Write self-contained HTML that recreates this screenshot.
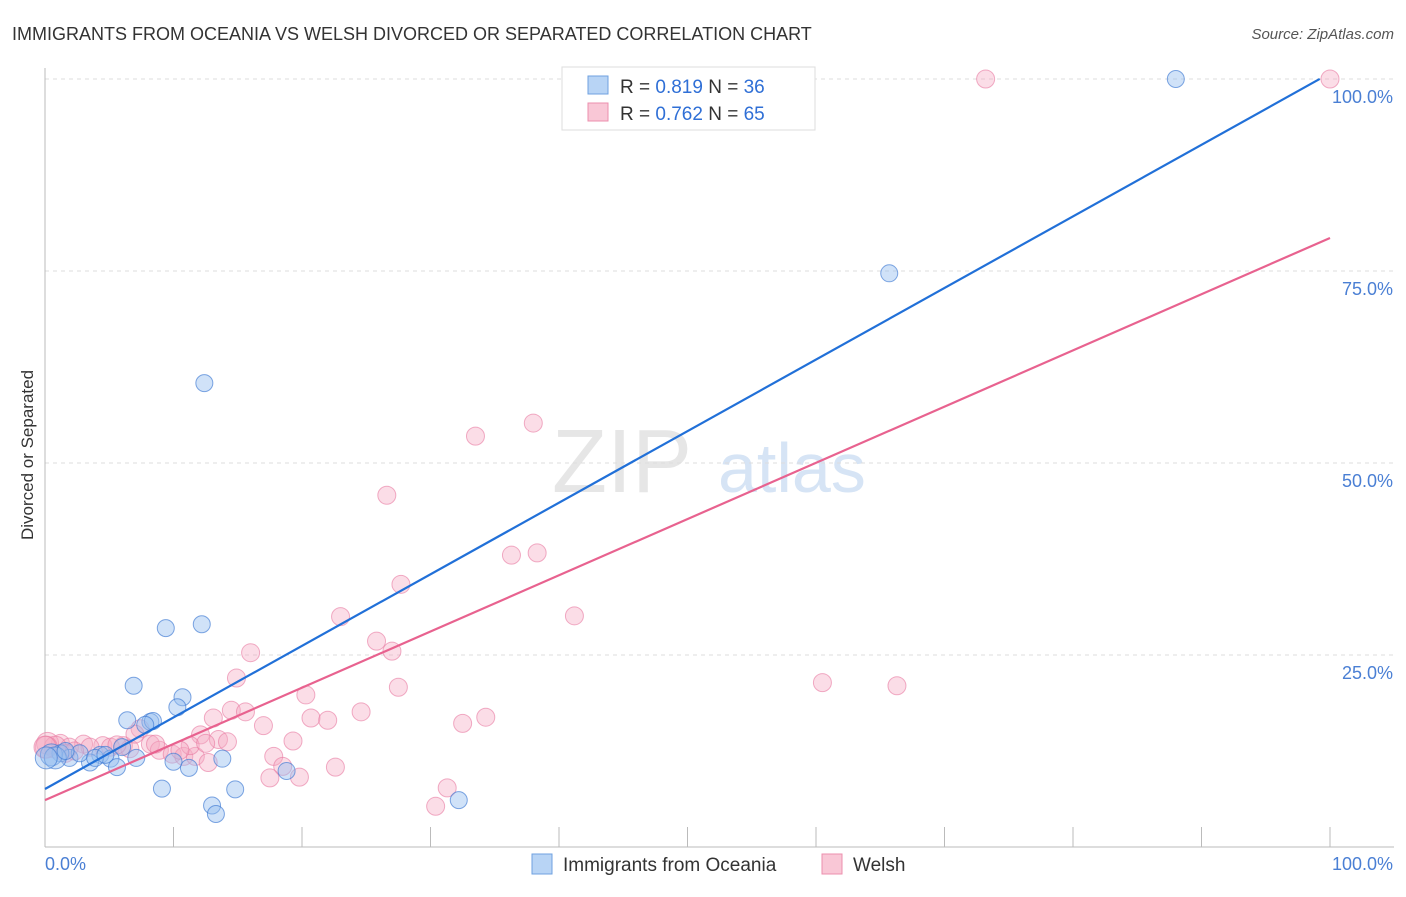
<!DOCTYPE html>
<html><head><meta charset="utf-8"><style>
body{margin:0;background:#fff;font-family:"Liberation Sans",sans-serif}
svg text{font-family:"Liberation Sans",sans-serif}
</style></head><body>
<svg id="c" width="1406" height="892">
<text x="12" y="40" font-size="18" fill="#333">IMMIGRANTS FROM OCEANIA VS WELSH DIVORCED OR SEPARATED CORRELATION CHART</text>
<text x="1394" y="39" font-size="15" fill="#555" text-anchor="end" font-style="italic">Source: ZipAtlas.com</text>
<text transform="translate(33,455) rotate(-90)" font-size="17" fill="#333" text-anchor="middle">Divorced or Separated</text>
<text x="552" y="492" font-size="90" fill="#e6e6e6" font-family="Liberation Serif">ZIP</text>
<text x="718" y="492" font-size="70" fill="#d6e4f5">atlas</text>
<g id="grid"></g><g id="pts"></g><g id="lines"></g>
<g>
<rect x="562" y="67" width="253" height="63" fill="#fff" stroke="#ddd"/>
<rect x="588" y="76" width="20" height="18" fill="#b8d4f5" stroke="#6fa1e0"/>
<rect x="588" y="103" width="20" height="18" fill="#f9c7d6" stroke="#ec8fae"/>
<text x="620" y="93" font-size="19" fill="#333">R = <tspan fill="#2f6fd6">0.819</tspan>   N = <tspan fill="#2f6fd6">36</tspan></text>
<text x="620" y="120" font-size="19" fill="#333">R = <tspan fill="#2f6fd6">0.762</tspan>   N = <tspan fill="#2f6fd6">65</tspan></text>
</g>
<g>
<rect x="532" y="854" width="20" height="20" fill="#b8d4f5" stroke="#6fa1e0"/>
<text x="563" y="871" font-size="19" fill="#333">Immigrants from Oceania</text>
<rect x="822" y="854" width="20" height="20" fill="#f9c7d6" stroke="#ec8fae"/>
<text x="853" y="871" font-size="19" fill="#333">Welsh</text>
</g>
</svg>
<script>
const yTicks=[25,50,75,100];
const yTickLabels=["25.0%","50.0%","75.0%","100.0%"];
const xTickLabels=["0.0%","100.0%"];
const blueX=[88,65.7,12.4,9.4,12.2,6.9,10.7,10.3,6.4,8.2,8.4,7.8,6,7.1,4.3,5.1,5.6,3.5,1.9,1.2,0.5,2.7,9.1,13,13.3,14.8,32.2,11.2,10,13.8,18.8,0.8,1.6,3.9,4.7,0.1];
const blueY=[100,74.7,60.4,28.5,29,21,19.5,18.2,16.5,16.3,16.4,15.9,13,11.6,12,11.5,10.4,11,11.6,12.2,12,12.2,7.6,5.4,4.3,7.5,6.1,10.3,11.1,11.5,9.9,11.6,12.5,11.6,12,11.6];
const pinkX=[73.2,100,33.5,38,26.6,36.3,38.3,27.7,41.2,23,16,25.8,27,14.9,27.5,20.3,60.5,66.3,14.5,15.6,13.1,17.0,20.7,22,24.6,32.5,34.3,7.4,12.1,13.5,14.2,19.3,8.2,6.1,4.5,3,8.9,9.9,10.8,11.7,17.8,18.5,17.5,19.8,22.6,31.3,30.4,12.7,1.2,1.9,0.2,0.8,3.5,5.1,6.6,1.6,2.3,0.1,5.6,7,8.6,11.3,10.5,12.5,0];
const pinkY=[100,100,53.5,55.2,45.8,38,38.3,34.2,30.1,30,25.3,26.8,25.5,22,20.8,19.8,21.4,21,17.8,17.6,16.8,15.8,16.8,16.5,17.6,16.1,16.9,15.4,14.6,14,13.7,13.8,13.4,13.2,13.2,13.4,12.6,12.1,11.8,11.8,11.8,10.5,9,9.1,10.4,7.7,5.3,11,13.5,13,13.5,13,13,13,12.8,12.2,12.5,13,13.3,14.7,13.4,13.2,12.6,13.5,13];
const lineIntercepts=[7.55,6.1];
const lineSlopes=[0.932,0.732];
const lineEnds=[99.2,100];
const NS="http://www.w3.org/2000/svg";
const X=v=>45+v*12.85, Y=v=>847-v*7.68;
function mk(t,a,p){const e=document.createElementNS(NS,t);for(const k in a)e.setAttribute(k,a[k]);p.appendChild(e);return e;}
const grid=document.getElementById('grid');
yTicks.forEach((t,i)=>{
 const l=mk('line',{x1:45,x2:1394,y1:Y(t),y2:Y(t),stroke:'#ddd','stroke-dasharray':'4,4'},grid);
 
 
 const tx=mk('text',{x:1393,y:Y(t)+24,'font-size':18,fill:'#4a7fd4','text-anchor':'end'},grid);
 tx.textContent=yTickLabels[i];
 
 
});
const ax=mk('line',{x1:45,x2:45,y1:68,y2:847,stroke:'#bbb'},grid);


const bx=mk('line',{x1:45,x2:1394,y1:847,y2:847,stroke:'#bbb'},grid);


for(let i=1;i<=10;i++){const t=mk('line',{x1:X(i*10),x2:X(i*10),y1:827,y2:847,stroke:'#bbb'},grid);
 
 }
[[0,45,'start'],[100,1393,'end']].forEach((d,i)=>{const t=mk('text',{x:d[1],y:870,'font-size':18,fill:'#4a7fd4','text-anchor':d[2]},grid);
 t.textContent=xTickLabels[i];
 
 });
const pts=document.getElementById('pts');
pinkX.forEach((v,i)=>{const c=mk('circle',{cx:X(v),cy:Y(pinkY[i]),r:v<1?11:9,fill:'rgba(246,170,195,0.4)',stroke:'rgba(232,120,160,0.6)'},pts);
 
 });
blueX.forEach((v,i)=>{const c=mk('circle',{cx:X(v),cy:Y(blueY[i]),r:v<1?11:8.5,fill:'rgba(150,190,240,0.45)',stroke:'rgba(60,120,210,0.65)'},pts);
 
 });
const lines=document.getElementById('lines');
['#2170d8','#e8628f'].forEach((col,i)=>{const e=lineEnds[i];
 const l=mk('line',{x1:X(0),y1:Y(lineIntercepts[i]),x2:X(e),y2:Y(lineIntercepts[i]+lineSlopes[i]*e),stroke:col,'stroke-width':2.2},lines);
 
 });
</script>
</body></html>
